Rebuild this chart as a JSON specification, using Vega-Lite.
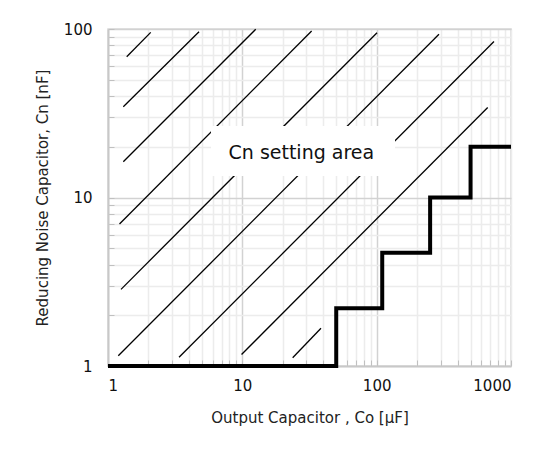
{
  "$schema": "https://vega.github.io/schema/vega-lite/v6.json",
  "width": 403,
  "height": 337,
  "autosize": "none",
  "padding": {"left": 108, "top": 29, "right": 41, "bottom": 86},
  "background": "white",
  "config": {
    "font": "DejaVu Sans",
    "view": {"stroke": "#d9d9d9", "strokeWidth": 1.5},
    "axis": {
      "domainColor": "#c8c8c8",
      "domainWidth": 2,
      "tickColor": "#c0c0c0",
      "tickSize": -6,
      "gridColor": {"condition": {"test": "datum.value==10||datum.value==100", "value": "#d2d2d2"}, "value": "#ececec"},
      "gridWidth": 1.5,
      "labelFont": "DejaVu Sans",
      "labelFontSize": 15,
      "labelColor": "#111",
      "labelOverlap": false,
      "labelBound": false,
      "titleFont": "DejaVu Sans",
      "titleFontSize": 15,
      "titleFontWeight": "normal",
      "titleColor": "#222"
    }
  },
  "datasets": {
    "hatch": [
      {"id": 1, "co": 1.378, "cn": 68.5}, {"id": 1, "co": 2.08, "cn": 95.5},
      {"id": 2, "co": 1.30, "cn": 34.6}, {"id": 2, "co": 4.76, "cn": 96.4},
      {"id": 3, "co": 1.30, "cn": 16.3}, {"id": 3, "co": 12.58, "cn": 99.6},
      {"id": 4, "co": 1.218, "cn": 6.96}, {"id": 4, "co": 32.8, "cn": 97.3},
      {"id": 5, "co": 1.25, "cn": 2.85}, {"id": 5, "co": 100.6, "cn": 95.1},
      {"id": 6, "co": 1.193, "cn": 1.151}, {"id": 6, "co": 291, "cn": 93.0},
      {"id": 7, "co": 3.38, "cn": 1.126}, {"id": 7, "co": 747, "cn": 84.3},
      {"id": 8, "co": 9.86, "cn": 1.17}, {"id": 8, "co": 671, "cn": 34.2},
      {"id": 9, "co": 23.7, "cn": 1.12}, {"id": 9, "co": 38.5, "cn": 1.675}
    ],
    "steps": [
      {"co": 1, "cn": 1}, {"co": 50, "cn": 2.2}, {"co": 110, "cn": 4.7},
      {"co": 250, "cn": 10}, {"co": 500, "cn": 20}, {"co": 1000, "cn": 20}
    ],
    "box": [{"x1": 5.84, "x2": 137, "y1": 13.4, "y2": 26.6}],
    "label": [{"co": 27.5, "cn": 18.4, "text": "Cn setting area"}]
  },
  "layer": [
    {
      "data": {"name": "hatch"},
      "mark": {"type": "line", "color": "black", "strokeWidth": 1.3},
      "encoding": {
        "x": {
          "field": "co", "type": "quantitative",
          "scale": {"type": "log", "domain": [1, 1000]},
          "axis": {
            "title": "Output  Capacitor , Co [μF]",
            "titlePadding": 17,
            "values": [1,2,3,4,5,6,7,8,9,10,20,30,40,50,60,70,80,90,100,200,300,400,500,600,700,800,900,1000],
            "labelExpr": "(datum.value==1||datum.value==10||datum.value==100||datum.value==1000) ? format(datum.value,'d') : ''",
            "labelPadding": 18
          }
        },
        "y": {
          "field": "cn", "type": "quantitative",
          "scale": {"type": "log", "domain": [1, 100]},
          "axis": {
            "title": "Reducing Noise  Capacitor, Cn [nF]",
            "titlePadding": 13,
            "values": [1,2,3,4,5,6,7,8,9,10,20,30,40,50,60,70,80,90,100],
            "labelExpr": "(datum.value==1||datum.value==10||datum.value==100) ? format(datum.value,'d') : ''",
            "labelPadding": 22
          }
        },
        "detail": {"field": "id", "type": "nominal"}
      }
    },
    {
      "data": {"name": "box"},
      "mark": {"type": "rect", "fill": "white", "stroke": null},
      "encoding": {
        "x": {"field": "x1", "type": "quantitative"},
        "x2": {"field": "x2"},
        "y": {"field": "y1", "type": "quantitative"},
        "y2": {"field": "y2"}
      }
    },
    {
      "data": {"name": "label"},
      "mark": {"type": "text", "fontSize": 19, "color": "#111", "font": "DejaVu Sans"},
      "encoding": {
        "x": {"field": "co", "type": "quantitative"},
        "y": {"field": "cn", "type": "quantitative"},
        "text": {"field": "text"}
      }
    },
    {
      "data": {"name": "steps"},
      "mark": {"type": "line", "interpolate": "step-after", "color": "black", "strokeWidth": 4, "strokeCap": "butt", "strokeJoin": "miter"},
      "encoding": {
        "x": {"field": "co", "type": "quantitative"},
        "y": {"field": "cn", "type": "quantitative"}
      }
    }
  ]
}
